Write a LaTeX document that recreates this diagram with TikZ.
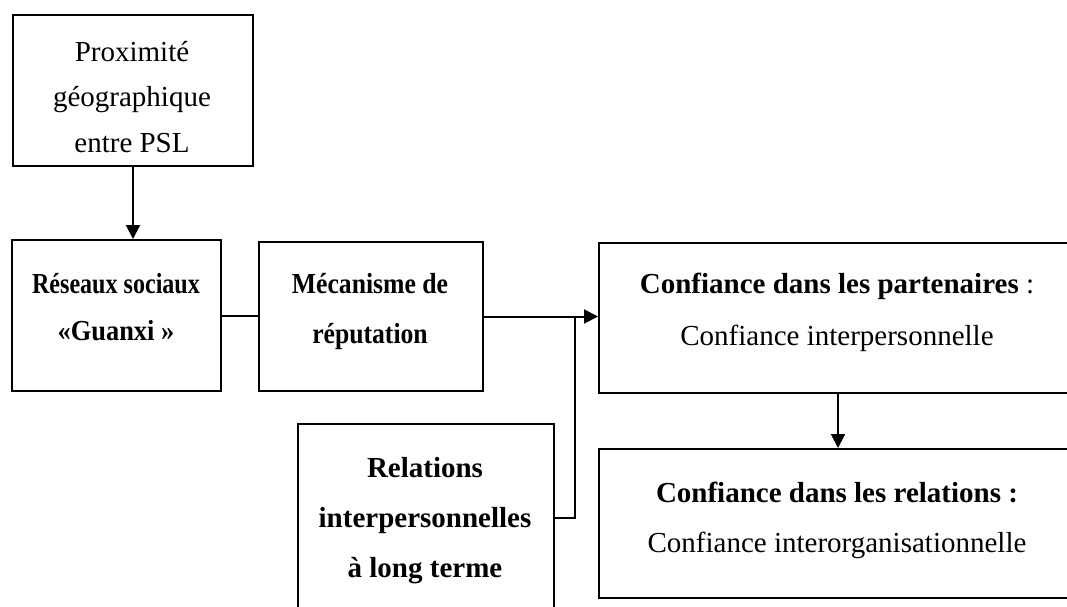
\documentclass[tikz,border=0pt]{standalone}
\usepackage{graphicx}
\usepackage{fontspec}
\setmainfont{Liberation Serif}
\usetikzlibrary{arrows.meta}
% centred lines whose baseline is the first line
\newcommand\boxlines[1]{\begin{tabular}[t]{@{}c@{}}#1\end{tabular}}
% horizontally condensed bold line
\newcommand\narrowbf[2]{\scalebox{#1}[1]{\textbf{#2}}}
\begin{document}
\begin{tikzpicture}[x=1pt,y=-1pt,
  box/.style={draw, line width=2pt, inner sep=0pt, anchor=north west},
  lbl/.style={inner sep=0pt, anchor=base, font=\fontsize{29}{#1}\selectfont},
  lbl/.default=50,
  link/.style={line width=2pt},
  arr/.style={line width=2pt, -{Triangle[length=14pt,width=14pt]}}]
\clip (0,0) rectangle (1067,606);

% boxes
\node[box, minimum width=240pt, minimum height=151pt] (prox) at (12,14) {};
\node[box, minimum width=209pt, minimum height=151pt] (res) at (11,239) {};
\node[box, minimum width=224pt, minimum height=149pt] (meca) at (258,241) {};
\node[box, minimum width=256pt, minimum height=188pt] (rel) at (297,423) {};
\node[box, minimum width=478pt, minimum height=150pt] (conf1) at (598,242) {};
\node[box, minimum width=478pt, minimum height=149pt] (conf2) at (598,448) {};

% texts
\node[lbl=45.5] (proxt) at (132,61) {\boxlines{Proximité\\géographique\\entre PSL}};
\node[lbl=47] (rest) at (116,293) {\boxlines{\narrowbf{0.83}{Réseaux sociaux}\\\narrowbf{0.91}{«Guanxi »}}};
\node[lbl=50] (mecat) at (370,293) {\boxlines{\narrowbf{0.886}{Mécanisme de}\\\narrowbf{0.885}{réputation}}};
\node[lbl=50] (relt) at (425,477) {\boxlines{\textbf{Relations}\\\textbf{interpersonnelles}\\\textbf{à long terme}}};
\node[lbl=52] (conf1t) at (837,293) {\boxlines{\textbf{Confiance dans les partenaires} :\\Confiance interpersonnelle}};
\node[lbl=50] (conf2t) at (837,502) {\boxlines{\textbf{Confiance dans les relations :}\\Confiance interorganisationnelle}};

% connectors
\coordinate (j) at (575,316);
\draw[arr] (prox.south) -- (prox.south |- res.north);
\draw[link] (res.east) -- (res.east -| meca.west);
\draw[arr] (meca.east) -- (meca.east -| conf1.west);
\draw[link] (rel.east) -- (rel.east -| j) -- (j);
\draw[arr] (conf1.south) -- (conf2.north);
\end{tikzpicture}
\end{document}
